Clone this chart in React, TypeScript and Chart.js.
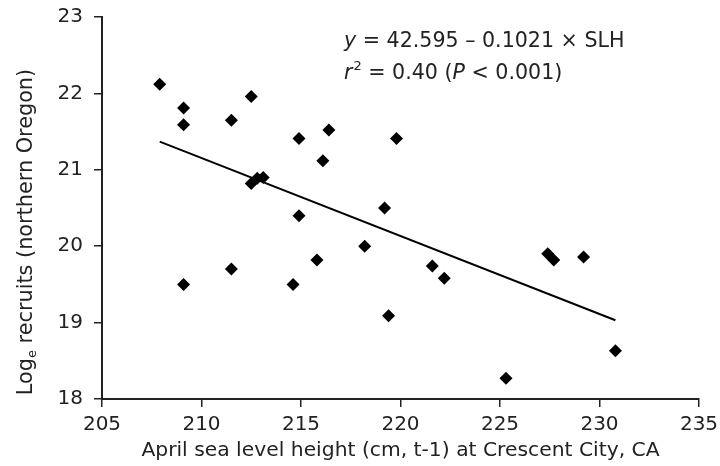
import React, { useEffect, useRef } from "react";
import { Chart, registerables } from "chart.js";

Chart.register(...registerables);

// Data
const seaLevel: number[] = [
  207.9, 209.1, 209.1, 209.1, 211.5, 211.5, 212.5, 212.5, 212.8, 213.1,
  214.9, 214.9, 214.6, 216.4, 216.1, 215.8, 218.2, 219.2, 219.8, 219.4,
  221.6, 222.2, 225.3, 227.4, 227.7, 229.2, 230.8,
];
const logRecruits: number[] = [
  22.12, 21.81, 21.59, 19.5, 21.65, 19.7, 21.96, 20.82, 20.89, 20.9,
  21.41, 20.4, 19.5, 21.52, 21.12, 19.82, 20.0, 20.5, 21.41, 19.09,
  19.74, 19.58, 18.27, 19.9, 19.82, 19.86, 18.63,
];
const intercept = 42.595;
const slope = -0.1021;
const xTicks = [205, 235, 5];
const yTicks = [18, 23, 1];

const xTitle = "April sea level height (cm, t-1) at Crescent City, CA";
const yTitleParts = ["Log", "e", " recruits (northern Oregon)"];
const eqLine1 = ["y", " = 42.595 \u2013 0.1021 \u00d7 SLH"];
const eqLine2 = ["r", "2", " = 0.40 (", "P", " < 0.001)"];

const FONT = "'DejaVu Sans', Verdana, sans-serif";
const INK = "#222";

const textPlugin = {
  id: "textPlugin",
  afterDraw(chart: any) {
    const ctx = chart.ctx as CanvasRenderingContext2D;
    ctx.save();
    ctx.fillStyle = INK;
    ctx.textBaseline = "alphabetic";
    ctx.textAlign = "left";
    // y-axis title with subscript
    const main = `20.8px ${FONT}`;
    const sub = `13px ${FONT}`;
    ctx.font = main;
    const w0 = ctx.measureText(yTitleParts[0]).width;
    const w2 = ctx.measureText(yTitleParts[2]).width;
    ctx.font = sub;
    const w1 = ctx.measureText(yTitleParts[1]).width;
    const total = w0 + w1 + w2;
    ctx.translate(25, 232);
    ctx.rotate(-Math.PI / 2);
    let x = -total / 2;
    const by = 7;
    ctx.font = main;
    ctx.fillText(yTitleParts[0], x, by);
    x += w0;
    ctx.font = sub;
    ctx.fillText(yTitleParts[1], x, by + 4);
    x += w1;
    ctx.font = main;
    ctx.fillText(yTitleParts[2], x, by);
    ctx.restore();

    // equation annotation
    ctx.save();
    ctx.fillStyle = INK;
    ctx.textBaseline = "alphabetic";
    ctx.textAlign = "left";
    const eqSize = 20.6;
    const normal = `${eqSize}px ${FONT}`;
    const italic = `italic ${eqSize}px ${FONT}`;
    const small = `13px ${FONT}`;
    let ex = 344;
    const b1 = 47;
    ctx.font = italic;
    ctx.fillText(eqLine1[0], ex, b1);
    ex += ctx.measureText(eqLine1[0]).width;
    ctx.font = normal;
    ctx.fillText(eqLine1[1], ex, b1);

    ex = 344;
    const b2 = 79;
    ctx.font = italic;
    ctx.fillText(eqLine2[0], ex, b2);
    ex += ctx.measureText(eqLine2[0]).width + 1;
    ctx.font = small;
    ctx.fillText(eqLine2[1], ex, b2 - 9);
    ex += ctx.measureText(eqLine2[1]).width;
    ctx.font = normal;
    ctx.fillText(eqLine2[2], ex, b2);
    ex += ctx.measureText(eqLine2[2]).width;
    ctx.font = italic;
    ctx.fillText(eqLine2[3], ex, b2);
    ex += ctx.measureText(eqLine2[3]).width;
    ctx.font = normal;
    ctx.fillText(eqLine2[4], ex, b2);
    ctx.restore();
  },
};

export default function App() {
  const ref = useRef<HTMLCanvasElement | null>(null);
  useEffect(() => {
    if (!ref.current) return;
    const points = seaLevel.map((v, i) => ({ x: v, y: logRecruits[i] }));
    const minX = Math.min(...seaLevel);
    const maxX = Math.max(...seaLevel);
    const fit = [
      { x: minX, y: intercept + slope * minX },
      { x: maxX, y: intercept + slope * maxX },
    ];
    const chart = new Chart(ref.current, {
      type: "scatter",
      data: {
        datasets: [
          {
            data: points,
            pointStyle: "rectRot",
            pointRadius: 6.5,
            backgroundColor: "#000",
            borderColor: "#000",
            borderWidth: 0,
            showLine: false,
          },
          {
            type: "line",
            data: fit,
            borderColor: "#000",
            borderWidth: 2,
            pointRadius: 0,
            showLine: true,
            fill: false,
          } as any,
        ],
      },
      options: {
        animation: false,
        responsive: false,
        events: [],
        layout: { padding: { left: 0, right: 21, top: 17, bottom: 0 } },
        plugins: { legend: { display: false }, tooltip: { enabled: false } },
        scales: {
          x: {
            type: "linear",
            min: xTicks[0],
            max: xTicks[1],
            ticks: { stepSize: xTicks[2], color: INK, font: { family: FONT, size: 20 }, padding: 6 },
            border: { color: INK, width: 2 },
            grid: { drawOnChartArea: false, drawTicks: true, tickLength: 8, color: INK, lineWidth: 1.5 },
            title: { display: true, text: xTitle, color: INK, font: { family: FONT, size: 20.3 }, padding: { top: 4, bottom: 3 } },
            afterFit: (s: any) => {
              s.height = 67;
              s.paddingLeft = 0;
              s.paddingRight = 0;
            },
          },
          y: {
            type: "linear",
            min: yTicks[0],
            max: yTicks[1],
            ticks: { stepSize: yTicks[2], color: INK, font: { family: FONT, size: 20 }, padding: 11 },
            border: { color: INK, width: 2 },
            grid: { drawOnChartArea: false, drawTicks: true, tickLength: 8, color: INK, lineWidth: 1.5 },
            afterFit: (s: any) => {
              s.width = 102;
              s.paddingTop = 0;
              s.paddingBottom = 0;
            },
          },
        },
      },
      plugins: [textPlugin],
    });
    return () => chart.destroy();
  }, []);
  return (
    <div style={{ position: "fixed", left: 0, top: 0, width: 720, height: 466, background: "#fff" }}>
      <canvas ref={ref} width={720} height={466} />
    </div>
  );
}
